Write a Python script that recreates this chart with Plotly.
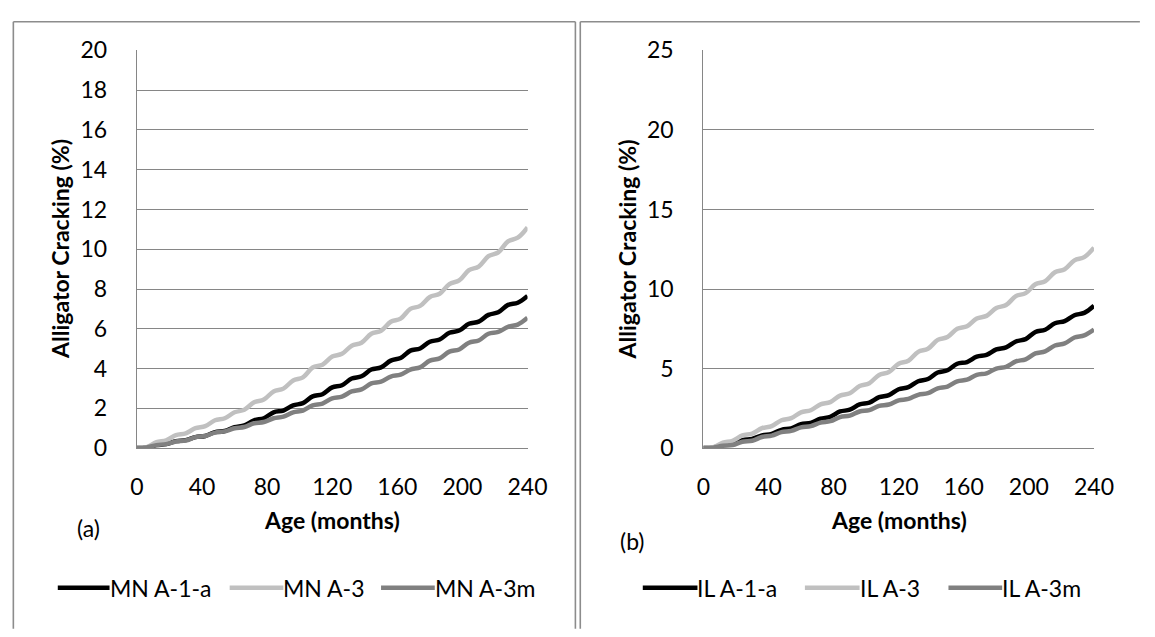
import plotly.graph_objects as go

W, H = 1155, 637

# Age in months, sampled every 6 months
months = list(range(0, 241, 6))

# Panel (a): Minnesota sections, alligator cracking (%)
mn_a1a = [0, 0.03, 0.15, 0.2, 0.35, 0.4, 0.55, 0.61, 0.8, 0.86, 1.05, 1.14, 1.4, 1.5,
          1.8, 1.89, 2.15, 2.26, 2.6, 2.71, 3.05, 3.16, 3.5, 3.61, 3.95, 4.06, 4.4, 4.53,
          4.9, 5.01, 5.35, 5.46, 5.8, 5.91, 6.25, 6.36, 6.7, 6.83, 7.2, 7.31, 7.65]
mn_a3 = [0, 0.05, 0.3, 0.39, 0.65, 0.74, 1.0, 1.1, 1.4, 1.5, 1.8, 1.93, 2.3, 2.44,
         2.85, 2.99, 3.4, 3.56, 4.05, 4.19, 4.6, 4.74, 5.15, 5.3, 5.75, 5.9, 6.35, 6.51,
         7.0, 7.15, 7.6, 7.76, 8.25, 8.43, 8.95, 9.13, 9.65, 9.84, 10.4, 10.58, 11.1]
mn_a3m = [0, 0.03, 0.15, 0.2, 0.33, 0.38, 0.55, 0.61, 0.78, 0.84, 1.0, 1.06, 1.25, 1.31,
          1.5, 1.58, 1.8, 1.89, 2.15, 2.24, 2.5, 2.59, 2.85, 2.95, 3.25, 3.34, 3.6, 3.69,
          3.95, 4.06, 4.4, 4.51, 4.85, 4.96, 5.3, 5.41, 5.75, 5.84, 6.1, 6.21, 6.55]

# Panel (b): Illinois sections, alligator cracking (%)
il_a1a = [0, 0.03, 0.2, 0.28, 0.5, 0.58, 0.8, 0.89, 1.15, 1.24, 1.5, 1.59, 1.85, 1.96,
          2.3, 2.41, 2.75, 2.86, 3.2, 3.33, 3.7, 3.83, 4.2, 4.34, 4.75, 4.89, 5.3, 5.41,
          5.75, 5.86, 6.2, 6.33, 6.7, 6.85, 7.3, 7.44, 7.85, 7.98, 8.35, 8.5, 8.95]
il_a3 = [0, 0.05, 0.35, 0.46, 0.8, 0.91, 1.25, 1.38, 1.75, 1.88, 2.25, 2.38, 2.75, 2.89,
         3.3, 3.45, 3.9, 4.08, 4.6, 4.78, 5.3, 5.49, 6.05, 6.24, 6.8, 6.98, 7.5, 7.66,
         8.15, 8.31, 8.8, 8.99, 9.55, 9.74, 10.3, 10.49, 11.05, 11.24, 11.8, 12.0, 12.6]
il_a3m = [0, 0.03, 0.15, 0.19, 0.4, 0.46, 0.7, 0.78, 1.0, 1.08, 1.3, 1.38, 1.6, 1.69,
          1.95, 2.04, 2.3, 2.39, 2.65, 2.74, 3.0, 3.09, 3.35, 3.45, 3.75, 3.86, 4.2, 4.3,
          4.6, 4.7, 5.0, 5.11, 5.45, 5.58, 5.95, 6.08, 6.45, 6.58, 6.95, 7.08, 7.45]

mn_names = ["MN A-1-a", "MN A-3", "MN A-3m"]
il_names = ["IL A-1-a", "IL A-3", "IL A-3m"]
colors = ["#000000", "#c0c0c0", "#808080"]

FONT = "Lato, 'Open Sans', sans-serif"
FS = 23
GRID = "#868686"
LW = 4.5


def px(x):
    return x / W


def py(y):
    return 1 - y / H


fig = go.Figure()

for ys, name, c in zip([mn_a1a, mn_a3, mn_a3m], mn_names, colors):
    fig.add_trace(go.Scatter(x=months, y=ys, name=name, mode="lines",
                             line=dict(color=c, width=LW, shape="spline", smoothing=1.0),
                             xaxis="x", yaxis="y", showlegend=False))
for ys, name, c in zip([il_a1a, il_a3, il_a3m], il_names, colors):
    fig.add_trace(go.Scatter(x=months, y=ys, name=name, mode="lines",
                             line=dict(color=c, width=LW, shape="spline", smoothing=1.0),
                             xaxis="x2", yaxis="y2", showlegend=False))

xcommon = dict(range=[0, 240], tickvals=[0, 40, 80, 120, 160, 200, 240], showgrid=False,
               showline=True, linecolor=GRID, linewidth=1.3, zeroline=False, ticks="",
               ticklabelstandoff=18, tickfont=dict(family=FONT, size=FS, color="#000"))
ycommon = dict(showgrid=True, gridcolor=GRID, gridwidth=1.3, showline=True, linecolor=GRID,
               linewidth=1.3, zeroline=False, ticks="", ticklabelstandoff=24,
               tickfont=dict(family=FONT, size=FS, color="#000"))

ydom = [py(453), py(37)]
fig.update_layout(
    width=W, height=H,
    margin=dict(l=0, r=0, t=0, b=0),
    paper_bgcolor="white", plot_bgcolor="white",
    xaxis=dict(domain=[px(133), px(533)], anchor="y", **xcommon),
    yaxis=dict(domain=ydom, anchor="x", range=[0, 20], dtick=2, **ycommon),
    xaxis2=dict(domain=[px(713), px(1113)], anchor="y2", **xcommon),
    yaxis2=dict(domain=ydom, anchor="x2", range=[0, 25], dtick=5, **ycommon),
)

shapes = []
anns = []

# panel frames
frame = dict(type="line", xref="paper", yref="paper", line=dict(color="#8c8c8c", width=1.6))
shapes += [
    dict(frame, x0=px(6.5), x1=px(6.5), y0=py(7), y1=py(H + 5)),
    dict(frame, x0=px(6.5), x1=px(582), y0=py(7), y1=py(7)),
    dict(frame, x0=px(582), x1=px(582), y0=py(7), y1=py(H + 5)),
    dict(frame, x0=px(587), x1=px(587), y0=py(7), y1=py(H + 5)),
    dict(frame, x0=px(587), x1=px(W + 5), y0=py(7), y1=py(7)),
]

# axis titles and panel tags
for cx, tag_x, tag_y, tag in [(333, 83, 537, "(a)"), (913, 640, 550, "(b)")]:
    anns.append(dict(text="<b>Age (months)</b>", x=px(cx), y=py(528), xref="paper", yref="paper",
                     showarrow=False, xanchor="center", yanchor="middle",
                     font=dict(family=FONT, size=FS, color="#000")))
    anns.append(dict(text=tag, x=px(tag_x), y=py(tag_y), xref="paper", yref="paper",
                     showarrow=False, xanchor="center", yanchor="middle",
                     font=dict(family=FONT, size=FS, color="#000")))
for tx in [55, 635]:
    anns.append(dict(text="<b>Alligator Cracking (%)</b>", x=px(tx), y=py(245), xref="paper",
                     yref="paper", showarrow=False, textangle=-90, xanchor="center",
                     yanchor="middle", font=dict(family=FONT, size=FS, color="#000")))

# legends drawn beneath each panel
leg_y = 599
for names, segs in [(mn_names, [(52, 105), (228, 283), (383, 438)]),
                    (il_names, [(651, 707), (817, 873), (964, 1019)])]:
    for name, (x0, x1), c in zip(names, segs, colors):
        shapes.append(dict(type="line", xref="paper", yref="paper", x0=px(x0), x1=px(x1),
                           y0=py(leg_y), y1=py(leg_y), line=dict(color=c, width=LW)))
        anns.append(dict(text=name, x=px(x1), y=py(leg_y), xref="paper", yref="paper",
                         showarrow=False, xanchor="left", yanchor="middle", xshift=-2,
                         font=dict(family=FONT, size=FS, color="#000")))

fig.update_layout(shapes=shapes, annotations=anns)
fig.write_html("out.html")
